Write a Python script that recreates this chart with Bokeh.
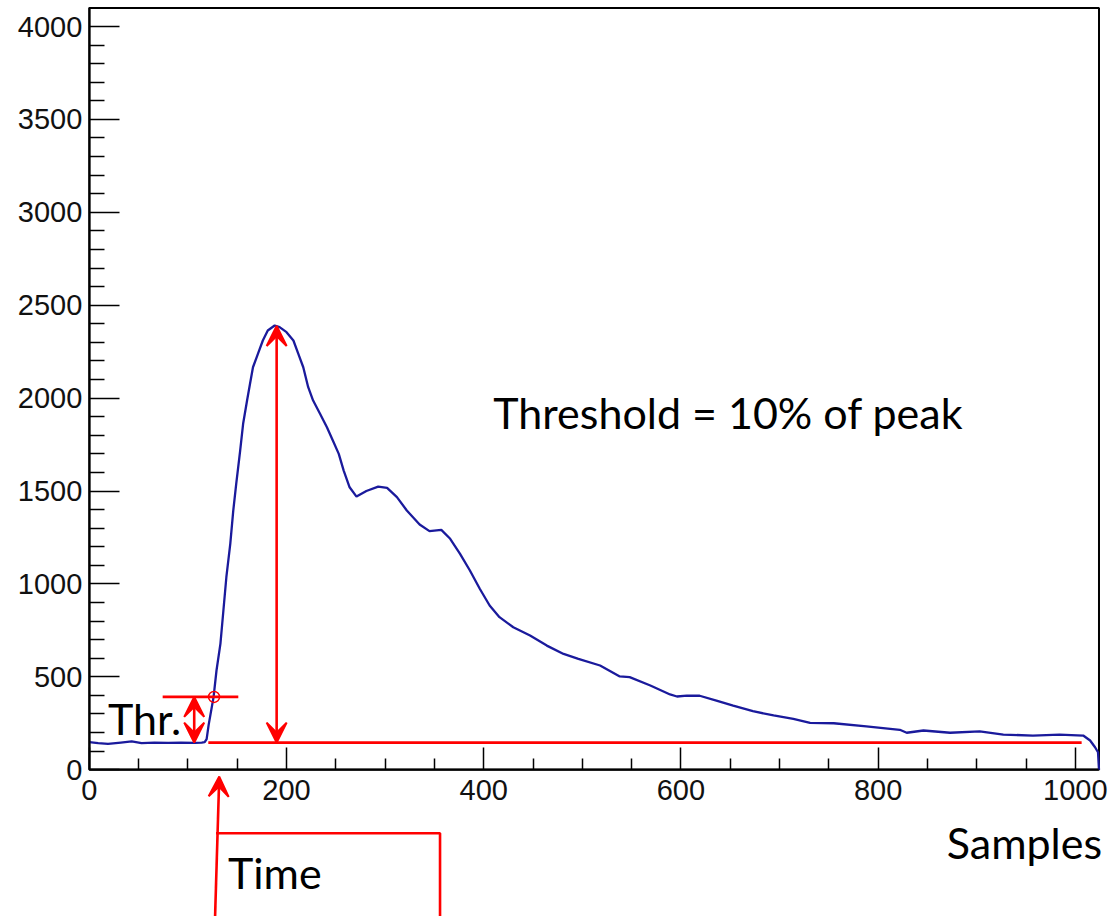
from bokeh.plotting import figure
from bokeh.models import FixedTicker, Label, Arrow, VeeHead, Range1d
from bokeh.embed import file_html
from bokeh.resources import INLINE

# ---- waveform ----
samples = [0, 9, 19, 32, 43, 53, 66, 80, 93, 107, 114, 117, 119, 121, 124, 126, 129,
           133, 136, 139, 143, 146, 149, 153, 156, 160, 163, 166, 171, 176, 181, 188,
           193, 200, 207, 212, 217, 222, 227, 234, 241, 247, 253, 258, 264, 271, 281,
           293, 302, 312, 322, 335, 345, 357, 366, 376, 386, 396, 406, 416, 430, 447,
           464, 481, 496, 518, 538, 548, 569, 589, 596, 606, 619, 636, 653, 673, 694,
           714, 731, 755, 788, 822, 829, 846, 873, 903, 927, 957, 984, 1008, 1015,
           1020, 1023, 1024]
adc_counts = [148, 143, 139, 146, 152, 143, 146, 145, 146, 145, 146, 148, 165, 240, 330,
              390, 534, 679, 857, 1036, 1217, 1394, 1539, 1717, 1862, 1987, 2077, 2166,
              2238, 2310, 2364, 2391, 2382, 2355, 2310, 2238, 2166, 2059, 1987, 1916,
              1843, 1772, 1700, 1610, 1520, 1470, 1500, 1524, 1517, 1467, 1395, 1320,
              1284, 1291, 1243, 1162, 1072, 974, 884, 821, 767, 722, 668, 623, 597, 561,
              502, 498, 453, 405, 394, 399, 398, 372, 345, 315, 292, 274, 252, 250, 233,
              215, 199, 211, 199, 206, 189, 184, 189, 184, 157, 121, 94, 0]

# ---- axes ----
x_limits = [0, 1024]
y_limits = [0, 4100]
x_major_ticks = [0, 200, 400, 600, 800, 1000]
x_minor_ticks = [50, 100, 150, 250, 300, 350, 450, 500, 550, 650, 700, 750, 850, 900, 950]
y_major_ticks = [0, 500, 1000, 1500, 2000, 2500, 3000, 3500, 4000]
y_minor_ticks = [v for v in range(100, 4100, 100) if v % 500 != 0]

# ---- annotation values (samples / counts) ----
baseline_level = 146
threshold_level = 392
peak_level = 2388
peak_sample = 190
thr_cross_sample = 126.5
thr_arrow_sample = 106.4
thr_line_x = [74.4, 151.1]
baseline_line_x = [120.7, 1006.4]
time_arrow_x = [127.5, 131.8]
time_arrow_y = [-800, -37]
time_box_x = [128.5, 355.7, 355.7]
time_box_y = [-342, -342, -800]

# ---- text annotations (x in samples, y in counts) ----
note_texts = ["Threshold = 10% of peak", "Thr.", "Time", "Samples"]
note_x = [409.7, 19, 140.7, 869.6]
note_y = [1921, 274, -551, -390]

RED = "#ff0000"
BLUE = "#1a1a9c"

# the plotting area covers the whole canvas so that the callout below the axis can be drawn;
# the ROOT-style frame spans x_limits / y_limits inside it
p = figure(width=1112, height=916,
           x_range=Range1d(-90.06, 1037.7), y_range=Range1d(-790, 4140),
           output_backend="svg", toolbar_location=None,
           min_border_left=0, min_border_right=0, min_border_top=0, min_border_bottom=0)
p.grid.visible = False
p.outline_line_color = None
p.background_fill_color = "white"
p.border_fill_color = "white"

p.xaxis.ticker = FixedTicker(ticks=x_major_ticks, minor_ticks=x_minor_ticks)
p.yaxis.ticker = FixedTicker(ticks=y_major_ticks, minor_ticks=y_minor_ticks)
p.xaxis.fixed_location = 0
p.yaxis.fixed_location = 0
p.xaxis.bounds = tuple(x_limits)
p.yaxis.bounds = tuple(y_limits)
for ax in (p.xaxis, p.yaxis):
    ax.axis_line_color = "black"
    ax.axis_line_width = 2
    ax.major_tick_line_color = "black"
    ax.minor_tick_line_color = "black"
    ax.major_tick_line_width = 1.5
    ax.minor_tick_line_width = 1.5
    ax.major_tick_out = 0
    ax.minor_tick_out = 0
    ax.major_label_text_font = "Liberation Sans"
    ax.major_label_text_font_size = "29px"
    ax.major_label_text_color = "#111111"
p.xaxis.major_tick_in = 22
p.xaxis.minor_tick_in = 11
p.yaxis.major_tick_in = 30
p.yaxis.minor_tick_in = 15
p.xaxis.major_label_standoff = 10
p.yaxis.major_label_standoff = 7

# ROOT frame
p.quad(left=[x_limits[0]], right=[x_limits[1]], bottom=[y_limits[0]], top=[y_limits[1]],
       fill_color=None, line_color="black", line_width=2)

# waveform
p.line(samples, adc_counts, line_color=BLUE, line_width=2.3)

# red markup
p.segment(x0=[baseline_line_x[0], thr_line_x[0]], y0=[baseline_level, threshold_level],
          x1=[baseline_line_x[1], thr_line_x[1]], y1=[baseline_level, threshold_level],
          line_color=RED, line_width=2.6)
p.scatter(x=[thr_cross_sample], y=[threshold_level], marker="circle", size=11,
          fill_color=None, line_color=RED, line_width=1.5)
p.line(time_box_x, time_box_y, line_color=RED, line_width=2.6)


def head():
    return VeeHead(size=20, fill_color=RED, line_color=RED, line_width=2)


p.add_layout(Arrow(start=head(), end=head(), x_start=peak_sample, y_start=baseline_level,
                   x_end=peak_sample, y_end=peak_level, line_color=RED, line_width=2.6))
p.add_layout(Arrow(start=head(), end=head(), x_start=thr_arrow_sample, y_start=baseline_level,
                   x_end=thr_arrow_sample, y_end=threshold_level, line_color=RED, line_width=2.6))
p.add_layout(Arrow(end=head(), x_start=time_arrow_x[0], y_start=time_arrow_y[0],
                   x_end=time_arrow_x[1], y_end=time_arrow_y[1], line_color=RED, line_width=2.6))

for t, tx, ty in zip(note_texts, note_x, note_y):
    p.add_layout(Label(x=tx, y=ty, text=t, text_font="Lato", text_font_size="43px",
                       text_color="black", text_baseline="alphabetic", text_align="left"))

open("out.html", "w").write(file_html(p, INLINE))
